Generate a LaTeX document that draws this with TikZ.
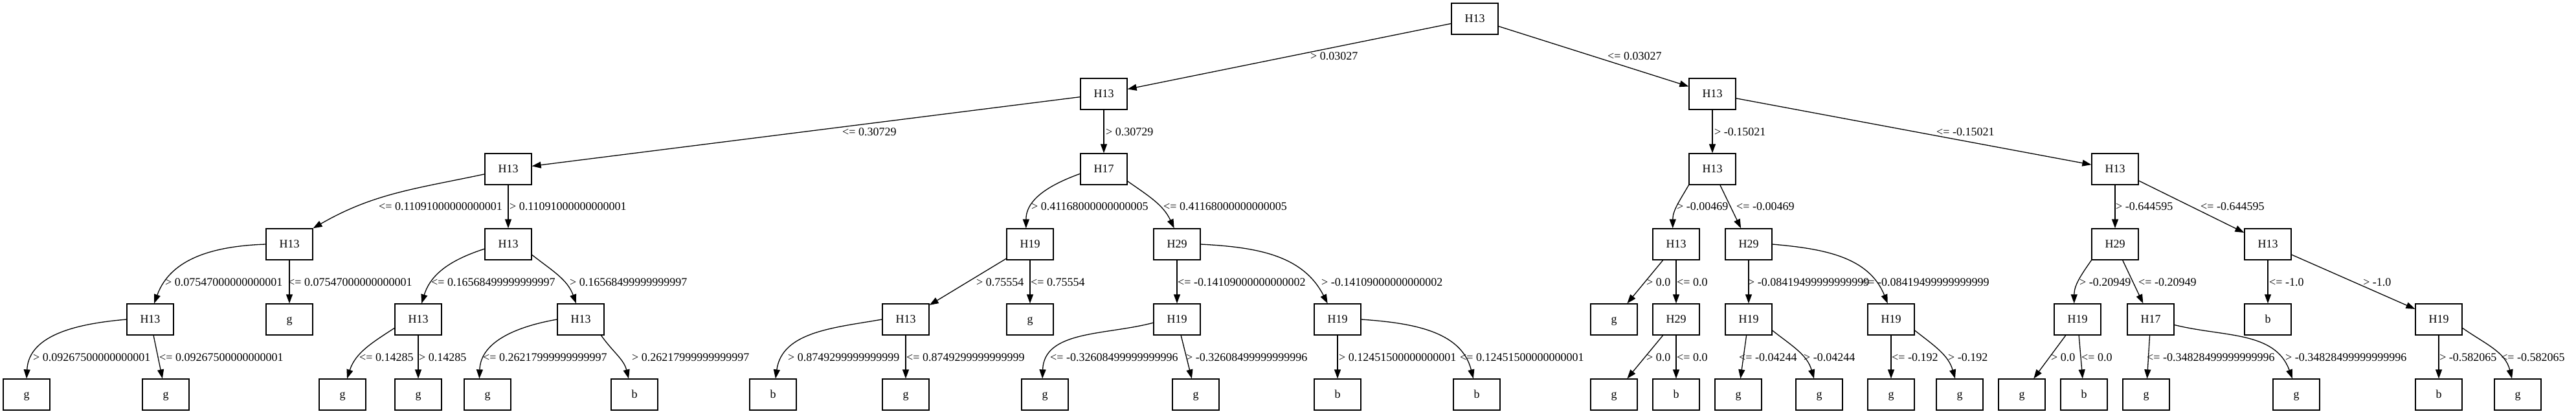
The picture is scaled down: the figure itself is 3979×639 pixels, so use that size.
\documentclass[tikz,border=0pt]{standalone}
\usepackage{fontspec}
\setmainfont{Liberation Serif}
\usetikzlibrary{arrows.meta}
\begin{document}
\begin{tikzpicture}[x=1pt,y=1pt,
  box/.style={draw, line width=1.3pt, rectangle, minimum width=72pt, minimum height=48pt,
    inner sep=0pt, text height=15pt, text depth=4pt, font=\fontsize{18}{21}\selectfont},
  edge/.style={line width=1.3pt, -{Triangle[length=14pt,width=10pt]}},
  lab/.style={anchor=base west, inner sep=0pt, font=\fontsize{18}{21}\selectfont}]
\useasboundingbox (0,0) rectangle (3979,-639);
% level 0
\node[box] (n0) at (2278,-29) {H13};
% level 1
\node[box] (n1a) at (1705,-145) {H13};
\node[box] (n1b) at (2645,-145) {H13};
% level 2
\node[box] (n2a) at (785,-261) {H13};
\node[box] (n2b) at (1705,-261) {H17};
\node[box] (n2c) at (2645,-261) {H13};
\node[box] (n2d) at (3267,-261) {H13};
% level 3
\node[box] (n3a) at (447,-377) {H13};
\node[box] (n3b) at (785,-377) {H13};
\node[box] (n3c) at (1591,-377) {H19};
\node[box] (n3d) at (1818,-377) {H29};
\node[box] (n3e) at (2589,-377) {H13};
\node[box] (n3f) at (2701,-377) {H29};
\node[box] (n3g) at (3267,-377) {H29};
\node[box] (n3h) at (3503,-377) {H13};
% level 4
\node[box] (n4a) at (232,-493) {H13};
\node[box] (n4b) at (447,-493) {g};
\node[box] (n4c) at (646,-493) {H13};
\node[box] (n4d) at (897,-493) {H13};
\node[box] (n4e) at (1399,-493) {H13};
\node[box] (n4f) at (1591,-493) {g};
\node[box] (n4g) at (1818,-493) {H19};
\node[box] (n4h) at (2066,-493) {H19};
\node[box] (n4i) at (2493,-493) {g};
\node[box] (n4j) at (2589,-493) {H29};
\node[box] (n4k) at (2701,-493) {H19};
\node[box] (n4l) at (2921,-493) {H19};
\node[box] (n4m) at (3209,-493) {H19};
\node[box] (n4n) at (3322,-493) {H17};
\node[box] (n4o) at (3503,-493) {b};
\node[box] (n4p) at (3767,-493) {H19};
% level 5
\node[box] (l1) at (41,-609) {g};
\node[box] (l2) at (256,-609) {g};
\node[box] (l3) at (529,-609) {g};
\node[box] (l4) at (646,-609) {g};
\node[box] (l5) at (753,-609) {g};
\node[box] (l6) at (980,-609) {b};
\node[box] (l7) at (1194,-609) {b};
\node[box] (l8) at (1399,-609) {g};
\node[box] (l9) at (1614,-609) {g};
\node[box] (l10) at (1847,-609) {g};
\node[box] (l11) at (2066,-609) {b};
\node[box] (l12) at (2281,-609) {b};
\node[box] (l13) at (2493,-609) {g};
\node[box] (l14) at (2589,-609) {b};
\node[box] (l15) at (2685,-609) {g};
\node[box] (l16) at (2810,-609) {g};
\node[box] (l17) at (2921,-609) {g};
\node[box] (l18) at (3027,-609) {g};
\node[box] (l19) at (3123,-609) {g};
\node[box] (l20) at (3219,-609) {b};
\node[box] (l21) at (3315,-609) {g};
\node[box] (l22) at (3547,-609) {g};
\node[box] (l23) at (3767,-609) {b};
\node[box] (l24) at (3889,-609) {g};
% edges level 0-1
\draw[edge] (n0) -- (n1a);
\draw[edge] (n0) -- (n1b);
% level 1-2
\draw[edge] (n1a) -- (n2a);
\draw[edge] (n1a) -- (n2b);
\draw[edge] (n1b) -- (n2c);
\draw[edge] (n1b) -- (n2d);
% level 2-3
\draw[edge] (n2a.192) to[out=192,in=30] (n3a.34);
\draw[edge] (n2a) -- (n3b);
\draw[edge] (n2b.191) to[out=200,in=90] (n3c.104);
\draw[edge] (n2b.333) to[out=-35,in=115] (n3d.100);
\draw[edge] (n2c.214) to[out=240,in=90] (n3e.102);
\draw[edge] (n2c) -- (n3f);
\draw[edge] (n2d) -- (n3g);
\draw[edge] (n2d) -- (n3h);
% level 3-4
\draw[edge] (n3a.west) to[out=182,in=70] (n4a.76);
\draw[edge] (n3a) -- (n4b);
\draw[edge] (n3b.191) to[out=198,in=73] (n4c.78);
\draw[edge] (n3b.336) to[out=-38,in=110] (n4d.106);
\draw[edge] (n3c) -- (n4e);
\draw[edge] (n3c) -- (n4f);
\draw[edge] (n3d) -- (n4g);
\draw[edge] (n3d.east) to[out=-3,in=117] (n4h.122);
\draw[edge] (n3e) -- (n4i);
\draw[edge] (n3e) -- (n4j);
\draw[edge] (n3f) -- (n4k);
\draw[edge] (n3f.east) to[out=-5,in=112] (n4l.102);
\draw[edge] (n3g.214) to[out=235,in=90] (n4m.102);
\draw[edge] (n3g) -- (n4n);
\draw[edge] (n3h) -- (n4o);
\draw[edge] (n3h) -- (n4p);
% level 4-5
\draw[edge] (n4a.west) to[out=185,in=87] (l1.north);
\draw[edge] (n4a) -- (l2);
\draw[edge] (n4c.200) to[out=213,in=72] (l3.74);
\draw[edge] (n4c) -- (l4);
\draw[edge] (n4d.west) to[out=190,in=88] (l5.117);
\draw[edge] (n4d.322) to[out=-55,in=104] (l6.110);
\draw[edge] (n4e.west) to[out=190,in=82] (l7.81);
\draw[edge] (n4e) -- (l8);
\draw[edge] (n4g.188) to[out=195,in=88] (l9.99);
\draw[edge] (n4g) -- (l10);
\draw[edge] (n4h) -- (l11);
\draw[edge] (n4h.east) to[out=-4,in=104] (l12.102);
\draw[edge] (n4j) -- (l13);
\draw[edge] (n4j) -- (l14);
\draw[edge] (n4k) -- (l15);
\draw[edge] (n4k.335) to[out=-38,in=106] (l16.108);
\draw[edge] (n4l) -- (l17);
\draw[edge] (n4l.335) to[out=-38,in=106] (l18.106);
\draw[edge] (n4m) -- (l19);
\draw[edge] (n4m) -- (l20);
\draw[edge] (n4n) -- (l21);
\draw[edge] (n4n.347) to[out=-14,in=110] (l22.104);
\draw[edge] (n4p) -- (l23);
\draw[edge] (n4p.340) to[out=-35,in=104] (l24.110);
% labels level 0-1
\node[lab] at (2024,-93) {> 0.03027};
\node[lab] at (2483,-93) {<= 0.03027};
% labels level 1-2
\node[lab] at (1301,-209) {<= 0.30729};
\node[lab] at (1708,-209) {> 0.30729};
\node[lab] at (2648,-209) {> -0.15021};
\node[lab] at (2991,-209) {<= -0.15021};
% labels level 2-3
\node[lab] at (585,-324) {<= 0.11091000000000001};
\node[lab] at (787,-324) {> 0.11091000000000001};
\node[lab] at (1593,-324) {> 0.41168000000000005};
\node[lab] at (1797,-324) {<= 0.41168000000000005};
\node[lab] at (2590,-324) {> -0.00469};
\node[lab] at (2682,-324) {<= -0.00469};
\node[lab] at (3268,-324) {> -0.644595};
\node[lab] at (3399,-324) {<= -0.644595};
% labels level 3-4
\node[lab] at (255,-441) {> 0.07547000000000001};
\node[lab] at (445,-441) {<= 0.07547000000000001};
\node[lab] at (666,-441) {<= 0.16568499999999997};
\node[lab] at (880,-441) {> 0.16568499999999997};
\node[lab] at (1508,-441) {> 0.75554};
\node[lab] at (1592,-441) {<= 0.75554};
\node[lab] at (1819,-441) {<= -0.14109000000000002};
\node[lab] at (2041,-441) {> -0.14109000000000002};
\node[lab] at (2543,-441) {> 0.0};
\node[lab] at (2590,-441) {<= 0.0};
\node[lab] at (2700,-441) {> -0.08419499999999999};
\node[lab] at (2875,-441) {<= -0.08419499999999999};
\node[lab] at (3212,-441) {> -0.20949};
\node[lab] at (3303,-441) {<= -0.20949};
\node[lab] at (3505,-441) {<= -1.0};
\node[lab] at (3650,-441) {> -1.0};
% labels level 4-5
\node[lab] at (51,-557) {> 0.09267500000000001};
\node[lab] at (246,-557) {<= 0.09267500000000001};
\node[lab] at (555,-557) {<= 0.14285};
\node[lab] at (647,-557) {> 0.14285};
\node[lab] at (746,-557) {<= 0.26217999999999997};
\node[lab] at (976,-557) {> 0.26217999999999997};
\node[lab] at (1217,-557) {> 0.8749299999999999};
\node[lab] at (1400,-557) {<= 0.8749299999999999};
\node[lab] at (1622,-557) {<= -0.32608499999999996};
\node[lab] at (1832,-557) {> -0.32608499999999996};
\node[lab] at (2068,-557) {> 0.12451500000000001};
\node[lab] at (2255,-557) {<= 0.12451500000000001};
\node[lab] at (2543,-557) {> 0.0};
\node[lab] at (2590,-557) {<= 0.0};
\node[lab] at (2686,-557) {<= -0.04244};
\node[lab] at (2786,-557) {> -0.04244};
\node[lab] at (2922,-557) {<= -0.192};
\node[lab] at (3009,-557) {> -0.192};
\node[lab] at (3168,-557) {> 0.0};
\node[lab] at (3215,-557) {<= 0.0};
\node[lab] at (3316,-557) {<= -0.34828499999999996};
\node[lab] at (3530,-557) {> -0.34828499999999996};
\node[lab] at (3768,-557) {> -0.582065};
\node[lab] at (3863,-557) {<= -0.582065};
\end{tikzpicture}
\end{document}
